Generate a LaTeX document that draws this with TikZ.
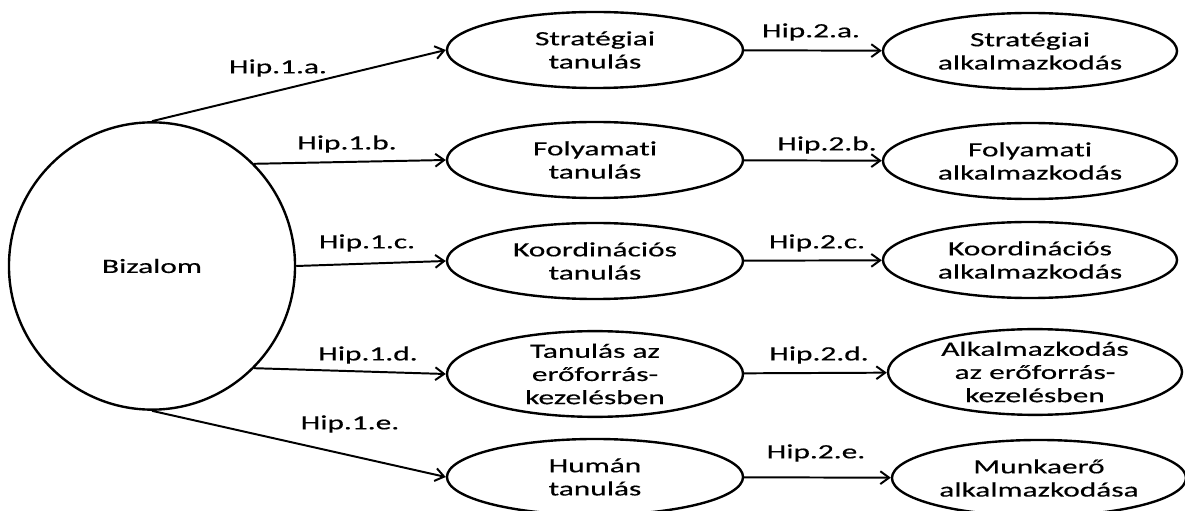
\documentclass[tikz,border=0pt]{standalone}
\usepackage{fontspec}
\setmainfont{Carlito}[FakeStretch=1.55, FakeBold=0.4, Ligatures=NoCommon]
\usepackage{tikz}
\usetikzlibrary{positioning, arrows.meta, shapes.geometric}
\tikzset{
    hipcircle/.style={draw, ellipse, line width=1.7pt, minimum width=7.15cm, minimum height=7.18cm, inner sep=0pt, align=center},
    hipmid/.style={draw, ellipse, line width=1.7pt, minimum width=7.4cm, minimum height=1.9cm, inner sep=0pt, align=center},
    hipout/.style={draw, ellipse, line width=1.7pt, minimum width=7.35cm, minimum height=1.9cm, inner sep=0pt, align=center},
    hiparrow/.style={-{Straight Barb[length=2.2mm, width=3.2mm]}, line width=1.4pt},
    hiplbl/.style={inner sep=1pt},
}

\begin{document}
\begin{tikzpicture}[x=0.025cm, y=-0.025cm, font=\fontsize{14.4}{16.5}\selectfont]
        \useasboundingbox (0,0) rectangle (1185,511);
        \node[hipcircle] (biz) at (152,266) {Bizalom};
        % tanulas
        \node[hipmid] (tsa) at (595,50)  {Stratégiai\\ tanulás};
        \node[hipmid] (tsb) at (595,160) {Folyamati\\ tanulás};
        \node[hipmid] (tsc) at (595,261) {Koordinációs\\ tanulás};
        \node[hipmid] (tsd) at (595,374) {Tanulás az\\ erőforrás-\\ kezelésben};
        \node[hipmid] (tse) at (595,477) {Humán\\ tanulás};
        % alkalmazkodas
        \node[hipout] (ala) at (1030,51)  {Stratégiai\\ alkalmazkodás};
        \node[hipout] (alb) at (1030,161) {Folyamati\\ alkalmazkodás};
        \node[hipout] (alc) at (1030,260) {Koordinációs\\ alkalmazkodás};
        \node[hipout] (ald) at (1035,372) {Alkalmazkodás\\ az erőforrás-\\ kezelésben};
        \node[hipout] (ale) at (1039,478) {Munkaerő\\ alkalmazkodása};
        \draw[hiparrow] (biz.north) -- (tsa.west);
        \draw[hiparrow] (biz.45) -- (tsb.west);
        \draw[hiparrow] (biz.east) -- (tsc.west);
        \draw[hiparrow] (biz.-45) -- (tsd.west);
        \draw[hiparrow] (biz.south) -- (tse.west);
        \draw[hiparrow] (tsa) -- (ala);
        \draw[hiparrow] (tsb) -- (alb);
        \draw[hiparrow] (tsc) -- (alc);
        \draw[hiparrow] (tsd) -- (ald);
        \draw[hiparrow] (tse) -- (ale);
        \node[hiplbl] (h1a) at (278,68)  {Hip.1.a.};
        \node[hiplbl] (h1b) at (347,144) {Hip.1.b.};
        \node[hiplbl] (h1c) at (367,243) {Hip.1.c.};
        \node[hiplbl] (h1d) at (368,355) {Hip.1.d.};
        \node[hiplbl] (h1e) at (350,424) {Hip.1.e.};
        \node[hiplbl] (h2a) at (811,32)  {Hip.2.a.};
        \node[hiplbl] (h2b) at (827,145) {Hip.2.b.};
        \node[hiplbl] (h2c) at (817,243) {Hip.2.c.};
        \node[hiplbl] (h2d) at (819,355) {Hip.2.d.};
        \node[hiplbl] (h2e) at (816,453) {Hip.2.e.};
\end{tikzpicture}
\end{document}
